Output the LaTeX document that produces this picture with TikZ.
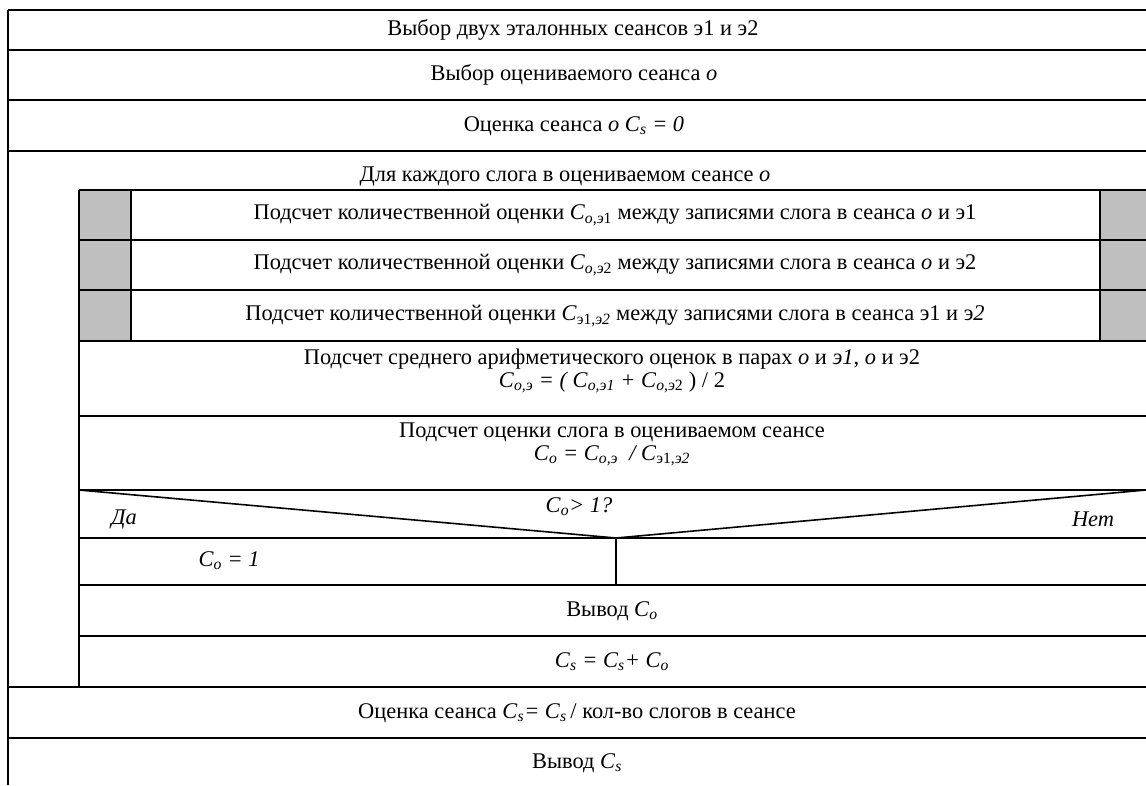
\documentclass[tikz,border=0pt]{standalone}
\usepackage{fontspec}
\setmainfont{Liberation Serif}
\newcommand\vi[1]{\textit{#1}}
\newcommand\sbs[1]{\textsubscript{#1}}
\begin{document}
\begin{tikzpicture}[x=1pt,y=-1pt,
  ln/.style={line width=2pt,black},
  txt/.style={inner sep=0pt,font=\fontsize{22.4}{25}\selectfont,align=center},
  grayc/.style={fill=gray!50!white}]
\useasboundingbox (0,0) rectangle (1146,785);
% gray columns
\fill[grayc] (79,190) rectangle (131,341);
\fill[grayc] (1100,190) rectangle (1146,341);
% outer left
\draw[ln] (8,10) -- (8,785);
\foreach \y in {10,50,100,151,687,738} \draw[ln] (8,\y) -- (1146,\y);
\draw[ln] (79,190) -- (79,687);
\foreach \y in {190,240,290,341,416,490,538,585,636} \draw[ln] (79,\y) -- (1146,\y);
\draw[ln] (131,190) -- (131,341);
\draw[ln] (1100,190) -- (1100,341);
% decision
\coordinate (dl) at (79,490);
\coordinate (dr) at (1146,490);
\coordinate (dm) at (616,538);
\coordinate (db) at (616,585);
\draw[ln, line width=1.6pt] (dl) -- (dm) -- (dr);
\draw[ln] (dm) -- (db);
% texts
\node[txt] (t1) at (573,30) {Выбор двух эталонных сеансов э1 и э2};
\node[txt] (t2) at (574,75) {Выбор оцениваемого сеанса \vi{o}};
\node[txt] (t3) at (574,126) {Оценка сеанса \vi{o C}\sbs{\vi{s}} \vi{= 0}};
\node[txt] (t4) at (565,177) {Для каждого слога в оцениваемом сеансе \vi{o}};
\node[txt] (t5) at (615,215) {Подсчет количественной оценки \vi{C}\sbs{\vi{o,э}1} между записями слога в сеанса \vi{o} и э1};
\node[txt] (t6) at (615,265) {Подсчет количественной оценки \vi{C}\sbs{\vi{o,э}2} между записями слога в сеанса \vi{o} и э2};
\node[txt] (t7) at (615,316) {Подсчет количественной оценки \vi{C}\sbs{э1,\vi{э2}} между записями слога в сеанса э1 и э\vi{2}};
\node[txt] (t8) at (612,371) {Подсчет среднего арифметического оценок в парах \vi{o} и \vi{э1}, \vi{o} и э2\\[-2pt]
  \vi{C}\sbs{\vi{o,э}} \vi{= ( C}\sbs{\vi{o,э1}} \vi{+ C}\sbs{\vi{o,э}2} ) / 2};
\node[txt] (t9) at (612,444) {Подсчет оценки слога в оцениваемом сеансе\\[-2pt]
  \vi{C}\sbs{\vi{o}} \vi{= C}\sbs{\vi{o,э}} \ \vi{/ C}\sbs{э1,\vi{э2}}};
\node[txt] (t10) at (579,507) {\vi{C}\sbs{\vi{o}}\vi{> 1?}};
\node[txt] (t11) at (124,519) {\vi{Да}};
\node[txt] (t12) at (1093,519) {\vi{Нет}};
\node[txt] (t13) at (229,561) {\vi{C}\sbs{\vi{o}} \vi{= 1}};
\node[txt] (t14) at (612,611) {Вывод \vi{C}\sbs{\vi{o}}};
\node[txt] (t15) at (612,662) {\vi{C}\sbs{\vi{s}} \vi{= C}\sbs{\vi{s}}\vi{+ C}\sbs{\vi{o}}};
\node[txt] (t16) at (577,713) {Оценка сеанса \vi{C}\sbs{\vi{s}}\vi{= C}\sbs{\vi{s}}\,/ кол-во слогов в сеансе};
\node[txt] (t17) at (577,763) {Вывод \vi{C}\sbs{\vi{s}}};
\end{tikzpicture}
\end{document}
